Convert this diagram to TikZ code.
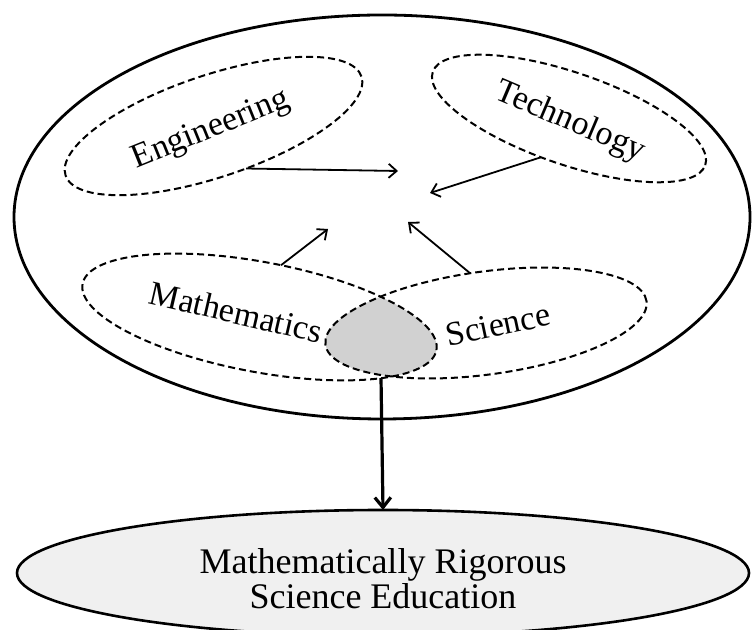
\documentclass[tikz,border=0pt]{standalone}
\usepackage{fontspec}
\setmainfont{Liberation Serif}
\usetikzlibrary{shapes.geometric,arrows.meta}

\begin{document}
\begin{tikzpicture}[x=0.5pt,y=0.5pt,
  field/.style={ellipse,draw,dash pattern=on 3.5pt off 2pt,line width=1pt,inner sep=0pt,outer sep=0pt},
  word/.style={font=\fontsize{17}{20}\selectfont},
  feed/.style={line width=0.9pt,-{Straight Barb[length=4pt,width=7pt]}}]
 \useasboundingbox (0,0) rectangle (753,630);
 \coordinate (E) at (213.5,504);
 \coordinate (T) at (569,511.5);
 \coordinate (M) at (259.5,313);
 \coordinate (S) at (486,307);
 \coordinate (E1) at (398,459);
 \coordinate (T1) at (430,437);
 \coordinate (M1) at (328,401);
 \coordinate (S1) at (408,408);
 \coordinate (MS) at (381,252);
 \node[ellipse,draw,line width=1.4pt,minimum width=368pt,minimum height=202pt,inner sep=0pt] (stem) at (382,413) {};
 \begin{scope}
  \clip[rotate around={-10.6:(M)}] (M) ellipse[x radius=180,y radius=55];
  \fill[black!18,rotate around={7.7:(S)}] (S) ellipse[x radius=162,y radius=51.5];
 \end{scope}
 \node[field,rotate=18.5,minimum width=156pt,minimum height=51pt] (eng) at (E) {};
 \node[field,rotate=-18.9,minimum width=144pt,minimum height=46pt] (tech) at (T) {};
 \node[field,rotate=-10.6,minimum width=180pt,minimum height=55pt] (math) at (M) {};
 \node[field,rotate=7.7,minimum width=162pt,minimum height=51.5pt] (sci) at (S) {};
 \node[word,rotate=22] (engl) at (211,500) {Engineering};
 \node[word,rotate=-23] (techl) at (570,508) {Technology};
 \node[word,rotate=-13] (mathl) at (236,318) {Mathematics};
 \node[word,rotate=12] (scil) at (498,305) {Science};
 \draw[feed] (eng.-71) -- (E1);
 \draw[feed] (tech.-107) -- (T1);
 \draw[feed] (math.78) -- (M1);
 \draw[feed] (sci.100) -- (S1);
 \node[ellipse,draw,fill=black!6,line width=1.3pt,minimum width=366pt,minimum height=63pt,inner sep=0pt,outer sep=0pt] (goal) at (383,57) {};
 \node[align=center,font=\fontsize{18}{16}\selectfont] (goall) at (383,51) {Mathematically Rigorous\\Science Education};
 \draw[line width=1.6pt,-{Straight Barb[length=5pt,width=8pt]}] (MS) -- (goal.north);
\end{tikzpicture}
\end{document}
